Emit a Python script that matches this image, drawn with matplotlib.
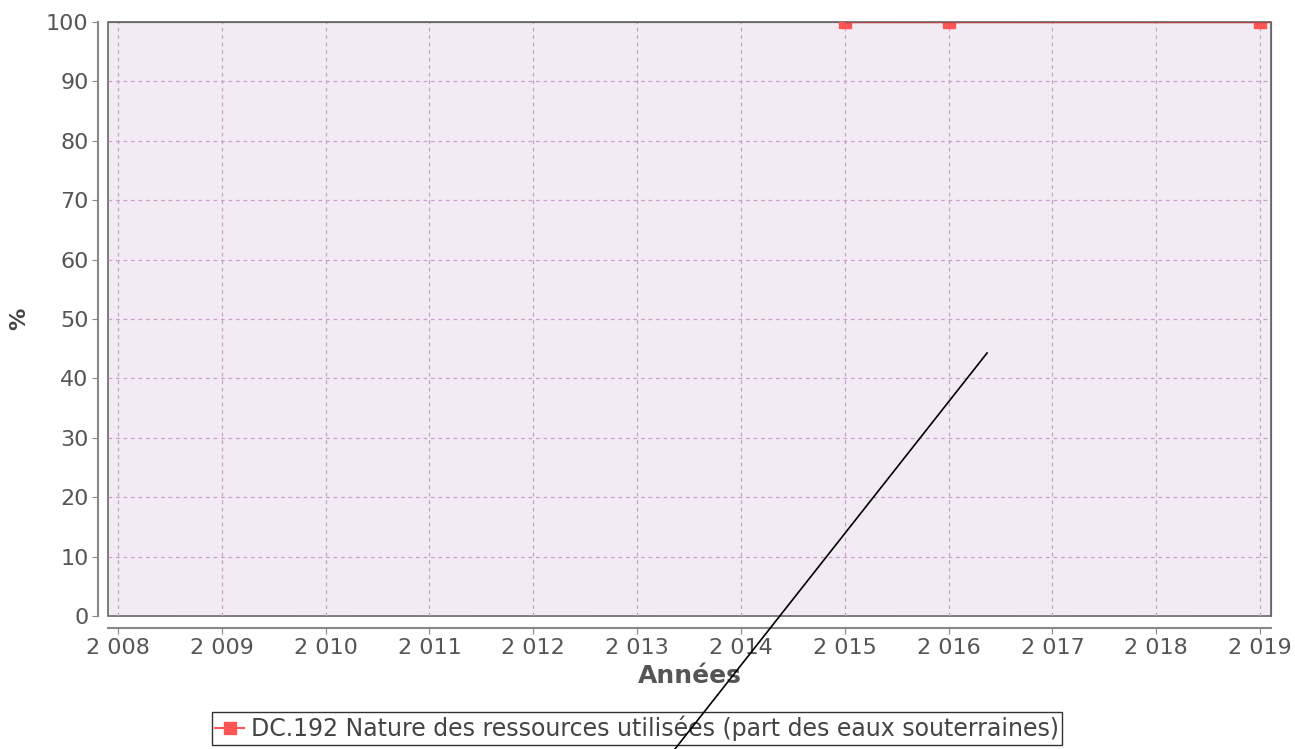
import matplotlib
matplotlib.use("Agg")
import matplotlib.pyplot as plt
from matplotlib.lines import Line2D
from matplotlib.ticker import FuncFormatter

# part des eaux souterraines (%)
years = [2015, 2016, 2019]
values = [100, 100, 100]
label = "DC.192 Nature des ressources utilisées (part des eaux souterraines)"

fig = plt.figure(figsize=(12.95, 7.49), dpi=100)
ax = fig.add_axes([0.0834, 0.1776, 0.8981, 0.7930])

ax.set_facecolor("#f3ebf3")
ax.plot(years, values, color="#ff5555", marker="s", markersize=8,
        linewidth=1.5, label=label, clip_on=True, zorder=3)
ax.axhline(100, color="#b04848", linewidth=1.0, xmin=(2015 - 2007.904) / (2019.106 - 2007.904), zorder=4)

ax.set_xlim(2007.904, 2019.106)
ax.set_ylim(0, 100)
ax.set_xticks(range(2008, 2020))
ax.set_yticks(range(0, 101, 10))
ax.xaxis.set_major_formatter(FuncFormatter(lambda v, p: "{:,}".format(int(v)).replace(",", " ")))

ax.grid(True, color="#c9a0cc", linestyle=(0, (3, 3)), linewidth=0.9)
ax.set_axisbelow(True)

# border of the plot area, the axis lines sit a little outside it
ax.patch.set_edgecolor("#666666")
ax.patch.set_linewidth(1.2)
for s in ["top", "right"]:
    ax.spines[s].set_color("#666666")
ax.spines["left"].set_position(("outward", 7))
ax.spines["bottom"].set_position(("outward", 9))
ax.spines["left"].set_color("#888888")
ax.spines["bottom"].set_color("#888888")
ax.spines["left"].set_linewidth(1.5)
ax.spines["bottom"].set_linewidth(1.5)
ax.tick_params(colors="#888888", labelcolor="#555555", labelsize=16, length=4, pad=3)

ax.set_xlabel("Années", fontsize=18, fontweight="bold", color="#555555", labelpad=4)
ax.set_ylabel("%", fontsize=16, fontweight="bold", color="#444444", labelpad=12)

leg = ax.legend(loc="upper center", bbox_to_anchor=(0.455, -0.162), frameon=True,
                fontsize=17, fancybox=False, handlelength=1.2, borderpad=0.15,
                handletextpad=0.3, borderaxespad=0)
leg.get_frame().set_edgecolor("black")
leg.get_frame().set_linewidth(1.0)
for t in leg.get_texts():
    t.set_color("#444444")

# stray pen stroke on the original picture
fig.add_artist(Line2D([0.5212, 0.7622], [0.0, 0.5287], color="black", linewidth=1.2,
                      transform=fig.transFigure))

fig.savefig("out.png", dpi=100)
